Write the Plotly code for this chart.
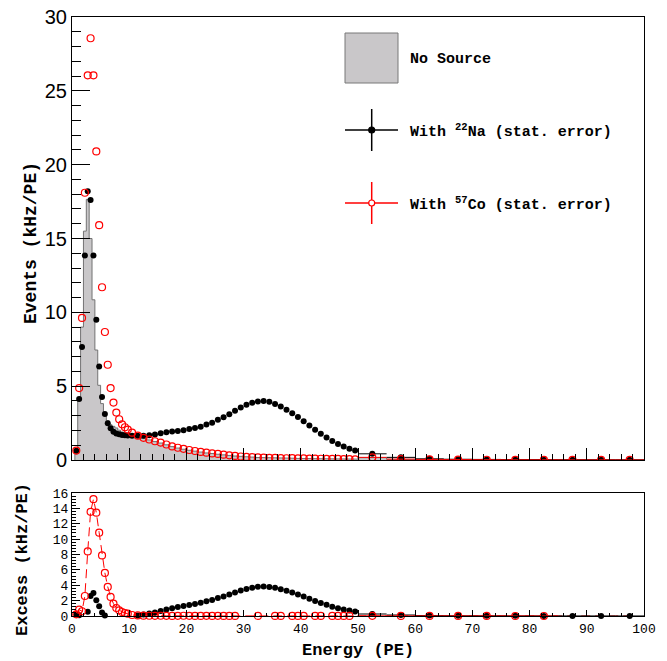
import plotly.graph_objects as go

# Energy binning (PE): 0.5 PE bins up to 10, 1 PE bins up to 50, 5 PE bins up to 100
bin_edges = [
    0.5, 1.0, 1.5, 2.0, 2.5, 3.0, 3.5, 4.0, 4.5, 5.0,
    5.5, 6.0, 6.5, 7.0, 7.5, 8.0, 8.5, 9.0, 9.5, 10.0,
    11, 12, 13, 14, 15, 16, 17, 18, 19, 20,
    21, 22, 23, 24, 25, 26, 27, 28, 29, 30,
    31, 32, 33, 34, 35, 36, 37, 38, 39, 40,
    41, 42, 43, 44, 45, 46, 47, 48, 49, 50,
    55, 60, 65, 70, 75, 80, 85, 90, 95, 100,
]

# Event rates per bin (kHz/PE)
no_source = [
    0.42, 4.05, 9.0, 15.5, 17.65, 15.0, 10.85, 7.45, 5.06, 3.82,
    3.06, 2.66, 2.39, 2.28, 2.17, 2.02, 1.9, 1.83, 1.76,
    1.72, 1.58, 1.46, 1.36, 1.25, 1.15, 1.03, 0.91, 0.81, 0.73,
    0.66, 0.6, 0.54, 0.48, 0.44, 0.39, 0.35, 0.31, 0.27, 0.25,
    0.22, 0.2, 0.17, 0.17, 0.16, 0.14, 0.13, 0.13, 0.12, 0.11,
    0.1, 0.1, 0.09, 0.08, 0.08, 0.07, 0.07, 0.06, 0.06, 0.06,
    0.16, 0.05, 0.03, 0.02, 0.015, 0.012, 0.01, 0.01, 0.008, 0.008,
]
with_na22 = [
    0.63, 4.14, 7.65, 13.85, 18.2, 17.6, 13.85, 9.5, 6.33, 4.26,
    3.12, 2.49, 2.15, 1.92, 1.8, 1.75, 1.7, 1.68, 1.66,
    1.65, 1.64, 1.64, 1.67, 1.72, 1.81, 1.88, 1.93, 1.97, 2.02,
    2.1, 2.16, 2.26, 2.4, 2.53, 2.72, 2.9, 3.1, 3.33, 3.56,
    3.74, 3.87, 3.97, 4.0, 3.94, 3.8, 3.62, 3.41, 3.17, 2.92,
    2.63, 2.34, 2.05, 1.78, 1.53, 1.29, 1.09, 0.91, 0.76, 0.64,
    0.42, 0.18, 0.08, 0.05, 0.04, 0.03, 0.025, 0.02, 0.015, 0.012,
]
with_co57 = [
    0.64, 4.87, 9.62, 18.1, 26.05, 28.56, 26.05, 20.9, 15.9, 11.7,
    8.67, 6.45, 4.87, 3.89, 3.21, 2.76, 2.42, 2.22, 2.06,
    1.85, 1.65, 1.5, 1.39, 1.27, 1.18, 1.05, 0.92, 0.83, 0.76,
    0.68, 0.61, 0.55, 0.5, 0.45, 0.41, 0.36, 0.32, 0.28, 0.24,
    0.21, 0.19, 0.175, 0.16, 0.15, 0.145, 0.135, 0.12, 0.125, 0.115,
    0.105, 0.09, 0.095, 0.085, 0.075, 0.075, 0.075, 0.065, 0.065, 0.05,
    0.18, 0.06, 0.04, 0.03, 0.02, 0.015, 0.012, 0.008, 0.006, 0.005,
]

x_tick_values = [0, 10, 20, 30, 40, 50, 60, 70, 80, 90, 100]
x_tick_labels = ["0", "10", "20", "30", "40", "50", "60", "70", "80", "90", "100"]

centers = [(a + b) / 2 for a, b in zip(bin_edges[:-1], bin_edges[1:])]
half_width = [(b - a) / 2 for a, b in zip(bin_edges[:-1], bin_edges[1:])]
# Horizontal error bars only stick out of the marker for the wide tail bins
bar_width = [w if w > 1 else 0 for w in half_width]

excess_na = [n - b for n, b in zip(with_na22, no_source)]
excess_co = [c - b for c, b in zip(with_co57, no_source)]

# Closed step outline of the background histogram
step_x = [bin_edges[0]]
step_y = [0.0]
for i, v in enumerate(no_source):
    step_x += [bin_edges[i], bin_edges[i + 1]]
    step_y += [v, v]
step_x.append(bin_edges[-1])
step_y.append(0.0)


def visible(values):
    """Keep only bins whose excess lies inside the lower pad's range."""
    keep = [i for i, v in enumerate(values) if v >= 0]
    return ([centers[i] for i in keep], [values[i] for i in keep],
            [bar_width[i] for i in keep])


MONO = "Liberation Mono"
SANS = "Liberation Sans"
RED = "rgb(255,0,0)"

fig = go.Figure()

# ---- upper pad: spectra ----
fig.add_trace(go.Scatter(
    x=step_x, y=step_y, mode="lines", xaxis="x", yaxis="y",
    line=dict(color="rgb(115,115,115)", width=1),
    fill="tozeroy", fillcolor="rgb(201,199,201)", hoverinfo="skip",
))
fig.add_trace(go.Scatter(
    x=centers, y=with_na22, mode="markers", xaxis="x", yaxis="y",
    marker=dict(symbol="circle", size=6, color="black"),
    error_x=dict(type="data", array=bar_width, color="black", thickness=1, width=0),
))
fig.add_trace(go.Scatter(
    x=centers, y=with_co57, mode="markers", xaxis="x", yaxis="y",
    marker=dict(symbol="circle-open", size=7, color=RED, line=dict(width=1.2, color=RED)),
    error_x=dict(type="data", array=bar_width, color=RED, thickness=1, width=0),
))

# ---- lower pad: excess over background ----
fig.add_trace(go.Scatter(
    x=centers, y=excess_co, mode="lines", xaxis="x2", yaxis="y2",
    line=dict(color=RED, width=1, dash="9px,5px"), hoverinfo="skip",
))
nx, ny, nw = visible(excess_na)
fig.add_trace(go.Scatter(
    x=nx, y=ny, mode="markers", xaxis="x2", yaxis="y2", cliponaxis=False,
    marker=dict(symbol="circle", size=6, color="black"),
    error_x=dict(type="data", array=nw, color="black", thickness=1, width=0),
))
cx, cy, cw = visible(excess_co)
fig.add_trace(go.Scatter(
    x=cx, y=cy, mode="markers", xaxis="x2", yaxis="y2", cliponaxis=False,
    marker=dict(symbol="circle-open", size=7, color=RED, line=dict(width=1.2, color=RED)),
    error_x=dict(type="data", array=cw, color=RED, thickness=1, width=0),
))

axis_common = dict(
    showline=True, linecolor="black", linewidth=1, mirror=True, automargin=False,
    showgrid=False, zeroline=False, ticks="inside", tickcolor="black", tickwidth=1,
)

fig.update_layout(
    width=667, height=661,
    margin=dict(l=72, r=23, t=17, b=45, pad=0),
    paper_bgcolor="white", plot_bgcolor="white",
    showlegend=False,
    xaxis=dict(
        axis_common, domain=[0, 1], anchor="y", range=[0, 100],
        tickmode="array", tickvals=x_tick_values, showticklabels=False, ticklen=12,
        minor=dict(ticks="inside", dtick=2, ticklen=6, tickcolor="black", showgrid=False),
    ),
    yaxis=dict(
        axis_common, domain=[0.2604, 1], anchor="x", range=[0, 30],
        dtick=5, tick0=0, ticklen=18,
        tickfont=dict(family=SANS, size=20, color="black"),
        minor=dict(ticks="inside", dtick=1, ticklen=9, tickcolor="black", showgrid=False),
    ),
    xaxis2=dict(
        axis_common, domain=[0, 1], anchor="y2", range=[0, 100],
        tickmode="array", tickvals=x_tick_values, ticktext=x_tick_labels, ticklen=6,
        tickfont=dict(family=MONO, size=13, color="black"),
        minor=dict(ticks="inside", dtick=2, ticklen=3, tickcolor="black", showgrid=False),
    ),
    yaxis2=dict(
        axis_common, domain=[0, 0.2053], anchor="x2", range=[0, 16],
        dtick=2, tick0=0, ticklen=8,
        tickfont=dict(family=MONO, size=13, color="black"),
        minor=dict(ticks="inside", dtick=0.4, ticklen=4, tickcolor="black", showgrid=False),
    ),
)


def px_x(p):
    return (p - 72) / 572


def px_y(p):
    return (616 - p) / 599


# Axis titles
fig.add_annotation(text="<b>Events (kHz/PE)</b>", xref="paper", yref="paper",
                   x=px_x(31), y=px_y(243), xanchor="center", yanchor="middle",
                   textangle=-90, showarrow=False,
                   font=dict(family=MONO, size=18, color="black"))
fig.add_annotation(text="<b>Excess (kHz/PE)</b>", xref="paper", yref="paper",
                   x=px_x(22), y=px_y(560), xanchor="center", yanchor="middle",
                   textangle=-90, showarrow=False,
                   font=dict(family=MONO, size=17, color="black"))
fig.add_annotation(text="<b>Energy (PE)</b>", xref="paper", yref="paper",
                   x=px_x(358), y=px_y(650), xanchor="center", yanchor="middle",
                   showarrow=False, font=dict(family=MONO, size=17, color="black"))

# Legend (drawn in paper coordinates)
leg_font = dict(family=MONO, size=15, color="black")
fig.add_shape(type="rect", xref="paper", yref="paper",
              x0=px_x(345), x1=px_x(398), y0=px_y(83), y1=px_y(33),
              fillcolor="rgb(201,199,201)", line=dict(color="rgb(120,120,120)", width=1))
fig.add_annotation(text="<b>No Source</b>", xref="paper", yref="paper",
                   x=px_x(408), y=px_y(59), xanchor="left", yanchor="middle",
                   showarrow=False, font=leg_font)

for cy_px, color, label, filled in [
    (130, "black", "<b>With <sup>22</sup>Na (stat. error)</b>", True),
    (203, RED, "<b>With <sup>57</sup>Co (stat. error)</b>", False),
]:
    fig.add_shape(type="line", xref="paper", yref="paper",
                  x0=px_x(345), x1=px_x(398), y0=px_y(cy_px), y1=px_y(cy_px),
                  line=dict(color=color, width=1.5))
    fig.add_shape(type="line", xref="paper", yref="paper",
                  x0=px_x(371.7), x1=px_x(371.7), y0=px_y(cy_px - 21), y1=px_y(cy_px + 21),
                  line=dict(color=color, width=1.5))
    fig.add_shape(type="circle", xref="paper", yref="paper",
                  xsizemode="pixel", ysizemode="pixel",
                  xanchor=px_x(371.7), yanchor=px_y(cy_px),
                  x0=-3, x1=3, y0=-3, y1=3,
                  fillcolor=color if filled else "white",
                  line=dict(color=color, width=1.2))
    fig.add_annotation(text=label, xref="paper", yref="paper",
                       x=px_x(408), y=px_y(cy_px + 1), xanchor="left", yanchor="middle",
                       showarrow=False, font=leg_font)

fig.write_html("out.html")
